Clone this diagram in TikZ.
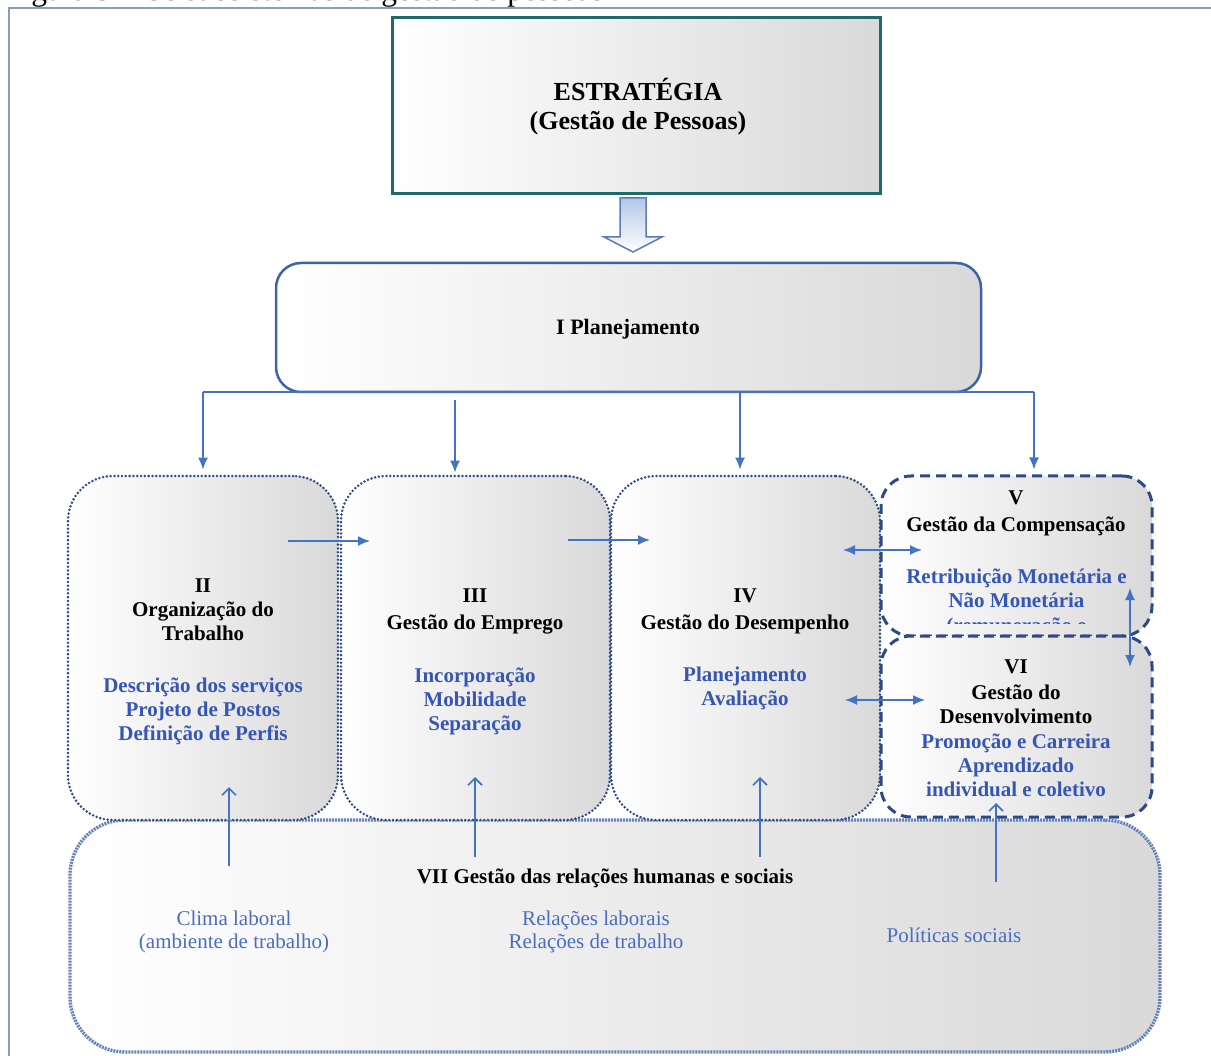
\documentclass[tikz,border=0pt]{standalone}
\usepackage{fontspec}
\setmainfont{Liberation Serif}
\usetikzlibrary{arrows.meta,calc}

\definecolor{frameline}{HTML}{8C9DB8}
\definecolor{stratline}{HTML}{1E6B6B}
\definecolor{planline}{HTML}{3C64A8}
\definecolor{boxline}{HTML}{2C4A88}
\definecolor{baseline}{HTML}{6682BA}
\definecolor{arrowblue}{HTML}{4472C4}
\definecolor{itemblue}{HTML}{3556B4}
\definecolor{softblue}{HTML}{4A6CC2}
\definecolor{fillright}{HTML}{D9D9D9}
\definecolor{arrowfill}{HTML}{B4C7E7}
\definecolor{arrowline}{HTML}{5B7DB5}

\tikzset{
  panel/.style={draw=boxline, line width=2.2pt, left color=white, right color=fillright, inner sep=0pt},
  stratbox/.style={panel, draw=stratline, line width=3pt},
  planbox/.style={panel, draw=planline, line width=2.5pt, rounded corners=25pt},
  dotbox/.style={panel, line width=2.8pt, rounded corners=45pt, dash pattern=on 0pt off 3.8pt, line cap=round},
  dashbox/.style={panel, line width=3pt, rounded corners=30pt, dash pattern=on 10pt off 6pt},
  basebox/.style={panel, draw=baseline, line width=3.4pt, rounded corners=55pt, dash pattern=on 2pt off 1pt},
  txt/.style={inner sep=0pt, align=center, font=\fontsize{21}{24}\selectfont\bfseries},
  item/.style={txt, text=itemblue},
  soft/.style={inner sep=0pt, align=center, font=\fontsize{21}{23}\selectfont, text=softblue},
  conn/.style={draw=arrowblue, line width=1.6pt},
  headarrow/.style={conn, -{Latex[length=12pt,width=10pt]}},
  twoway/.style={conn, {Latex[length=12pt,width=10pt]}-{Latex[length=12pt,width=10pt]}},
  uparrow/.style={conn, -{Straight Barb[length=7pt,width=14pt,line width=1.6pt]}}
}

\begin{document}
\begin{tikzpicture}[x=1pt,y=-1pt]
\useasboundingbox (0,0) rectangle (1211,1056);

% caption line above the frame
\node[anchor=base west, inner sep=0pt, font=\fontsize{31.5}{36}\selectfont] (caption) at (5,0.5)
  {Figura 3 -- Os subsistemas de gestão de pessoas};

% frame
\draw[frameline, line width=1.5pt] (1211,8) -- (9,8) -- (9,1056);

% strategy box
\node[stratbox, minimum width=488pt, minimum height=176pt] (estr) at (636,106) {};
\node[txt, font=\fontsize{26}{29}\selectfont\bfseries] (estrtext) at (638,107)
  {ESTRATÉGIA\\(Gestão de Pessoas)};

% block arrow down to planning
\coordinate (flowtop) at (633,198);
\draw[arrowline, line width=1.5pt, top color=arrowfill, bottom color=white]
  ($(flowtop)+(-13,0)$) -- ($(flowtop)+(13,0)$) -- ($(flowtop)+(13,39)$)
  -- ($(flowtop)+(29,39)$) -- ($(flowtop)+(0,54)$) -- ($(flowtop)+(-29,39)$)
  -- ($(flowtop)+(-13,39)$) -- cycle;

% planning box
\node[planbox, minimum width=705pt, minimum height=129pt] (plan) at (628.5,327.5) {};
\node[txt, font=\fontsize{22}{25}\selectfont\bfseries] (plantext) at (628,329) {I Planejamento};

% base box VII (drawn first so upper boxes sit over its top edge)
\node[basebox, minimum width=1090pt, minimum height=232pt] (VII) at (615,936) {};

% subsystem boxes
\node[dotbox, minimum width=270pt, minimum height=344pt] (II) at (203,648) {};
\node[dotbox, minimum width=269pt, minimum height=344pt] (III) at (475.5,648) {};
\node[dotbox, minimum width=269pt, minimum height=344pt] (IV) at (745.5,648) {};
\node[dashbox, minimum width=271pt, minimum height=160pt] (V) at (1016.5,556) {};
\node[dashbox, minimum width=271pt, minimum height=181pt] (VI) at (1016.5,726.5) {};

% texts of the boxes
\node[txt] (IIt) at (203,609.5) {II\\Organização do\\Trabalho};
\node[item] (IIi) at (203,711) {Descrição dos serviços\\Projeto de Postos\\Definição de Perfis};

\node[txt] (IIIt) at (475,611.5) {III\\[3pt]Gestão do Emprego};
\node[item] (IIIi) at (475,701) {Incorporação\\Mobilidade\\Separação};

\node[txt] (IVt) at (745,611.5) {IV\\[3pt]Gestão do Desempenho};
\node[item] (IVi) at (745,688.5) {Planejamento\\Avaliação};

\node[txt] (Vt) at (1016,513.5) {V\\[3pt]Gestão da Compensação};
\begin{scope}
  \clip (881,476) rectangle (1152,623);
  \node[item, font=\fontsize{21}{24.5}\selectfont\bfseries] (Vi) at (1016.5,602.5)
    {Retribuição Monetária e\\Não Monetária\\(remuneração e};
\end{scope}

\node[txt] (VIt) at (1016,692) {VI\\[2pt]Gestão do\\Desenvolvimento};
\node[item] (VIi) at (1016,765) {Promoção e Carreira\\Aprendizado\\individual e coletivo};

\node[txt] (VIIt) at (605,878) {VII Gestão das relações humanas e sociais};
\node[soft] (clima) at (234,931.5) {Clima laboral\\(ambiente de trabalho)};
\node[soft] (relac) at (596,931.5) {Relações laborais\\Relações de trabalho};
\node[soft] (polit) at (954,935) {Políticas sociais};

% planning distributes to the subsystems
\coordinate (busL) at (203,392);
\coordinate (busR) at (1034,392);
\coordinate (busB) at (455,400);
\coordinate (busC) at (740,392);
\draw[conn] (busL) -- (busR);
\draw[headarrow, shorten >=5pt] (busL) -- (II.north);
\draw[headarrow, shorten >=2pt] (busB) -- (busB |- III.north);
\draw[headarrow, shorten >=5pt] (busC) -- (busC |- IV.north);
\draw[headarrow, shorten >=5pt] (busR) -- (busR |- V.north);

% flows between the subsystems
\coordinate (a1) at (288,541); \coordinate (a2) at (370,541);
\coordinate (b1) at (568,540); \coordinate (b2) at (650,540);
\coordinate (c1) at (843,550); \coordinate (c2) at (922,550);
\coordinate (d1) at (845,700); \coordinate (d2) at (925,700);
\coordinate (e1) at (1130,588); \coordinate (e2) at (1130,667);
\draw[headarrow] (a1) -- (a2);
\draw[headarrow] (b1) -- (b2);
\draw[twoway] (c1) -- (c2);
\draw[twoway] (d1) -- (d2);
\draw[twoway] (e1) -- (e2);

% base influences rising into the subsystems
\coordinate (u1) at (229,866); \coordinate (t1) at (229,787);
\coordinate (u2) at (475,857); \coordinate (t2) at (475,777);
\coordinate (u3) at (760,857); \coordinate (t3) at (760,777);
\coordinate (u4) at (996,882); \coordinate (t4) at (996,803);
\draw[uparrow] (u1) -- (t1);
\draw[uparrow] (u2) -- (t2);
\draw[uparrow] (u3) -- (t3);
\draw[uparrow] (u4) -- (t4);
\end{tikzpicture}
\end{document}
